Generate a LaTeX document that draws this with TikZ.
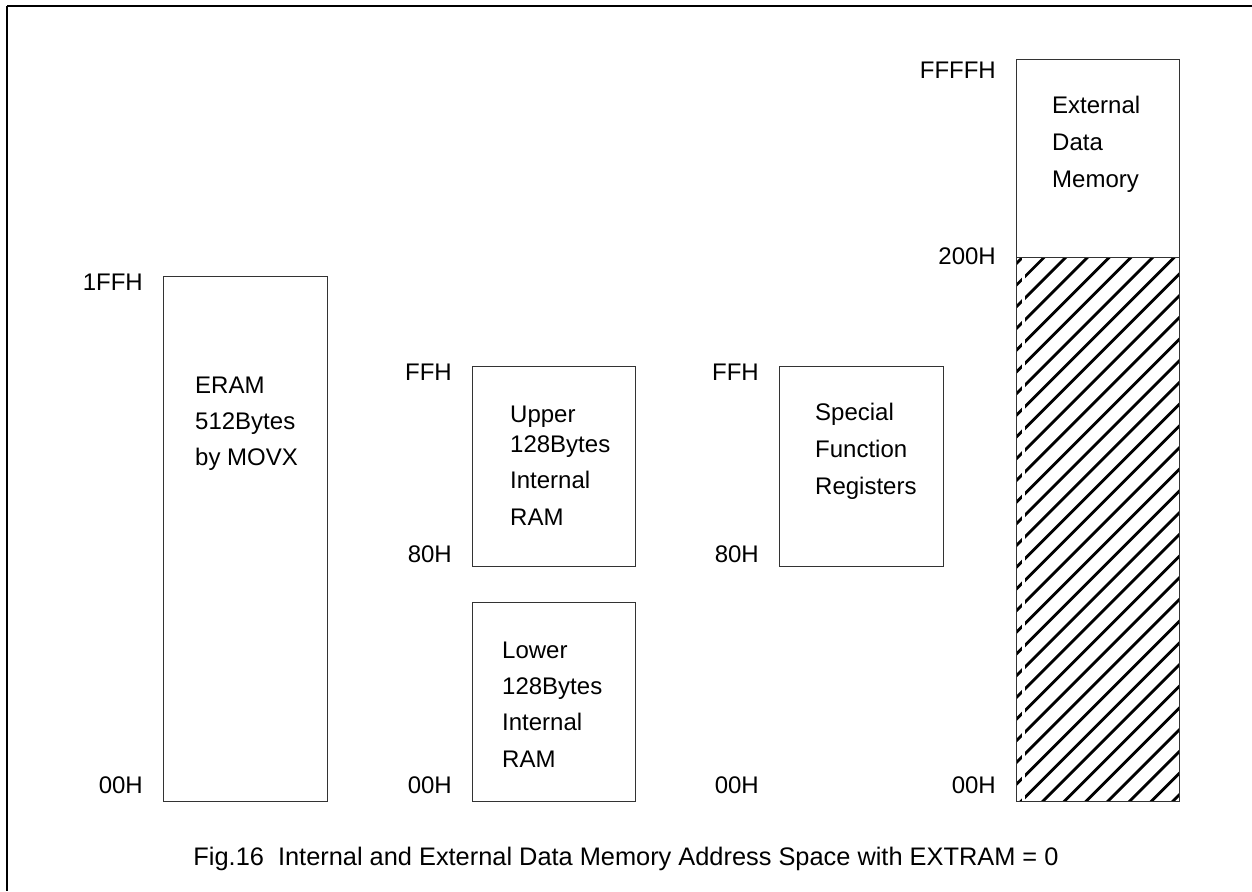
\documentclass[tikz,border=0pt]{standalone}
\usepackage{fontspec}
\usepackage{graphicx}
\setmainfont{Liberation Sans}
\begin{document}
\begin{tikzpicture}[x=1pt,y=-1pt,
  txt/.style={inner sep=0pt,font=\fontsize{24}{29}\selectfont},
  addr/.style={txt,anchor=base east},
  line/.style={txt,anchor=base west},
  memblk/.style={draw=black!80,line width=1.4pt,inner sep=0pt,anchor=north west},
  hatch/.style={line width=2.8pt,black},
  frameline/.style={line width=2.8pt,black}]
\useasboundingbox (0,0) rectangle (1252,891);

% page frame (top and left edges)
\draw[frameline] (7,6) -- (1252,6);
\draw[frameline] (7,6) -- (7,891);

% hatched part of the external data memory
\begin{scope}
  \clip (1016,257) rectangle (1179,801);
  \foreach \k in {-28,...,8}{
    \pgfmathsetmacro{\c}{1844+21.7*\k}
    \draw[hatch] (\c-801-10,811) -- (\c-257+10,247);
  }
  \fill[white] (1022,250) rectangle (1025,805);
\end{scope}

% memory blocks
\node[memblk,minimum width=164pt,minimum height=525pt] (eram) at (163,276) {};
\node[memblk,minimum width=163pt,minimum height=200pt] (upper) at (472,366) {};
\node[memblk,minimum width=163pt,minimum height=199pt] (lower) at (472,602) {};
\node[memblk,minimum width=164pt,minimum height=200pt] (sfr) at (779,366) {};
\node[memblk,minimum width=163pt,minimum height=198pt] (extup) at (1016,59) {};
\node[memblk,minimum width=163pt,minimum height=544pt] (extlow) at (1016,257) {};

% address labels
\node[addr] (a-eram-top) at (143,290) {1FFH};
\node[addr] (a-eram-bot) at (143,793) {00H};
\node[addr] (a-upper-top) at (452,380) {FFH};
\node[addr] (a-upper-bot) at (452,562) {80H};
\node[addr] (a-lower-bot) at (452,793) {00H};
\node[addr] (a-sfr-top) at (759,380) {FFH};
\node[addr] (a-sfr-bot) at (759,562) {80H};
\node[addr] (a-sfr-zero) at (759,793) {00H};
\node[addr] (a-ext-top) at (996,78) {FFFFH};
\node[addr] (a-ext-mid) at (996,264) {200H};
\node[addr] (a-ext-bot) at (996,793) {00H};

% block contents
\node[line] (eram-1) at (195,393) {ERAM};
\node[line] (eram-2) at (195,429) {512Bytes};
\node[line] (eram-3) at (195,465) {by MOVX};

\node[line] (upper-1) at (510,422) {Upper};
\node[line] (upper-2) at (510,452) {128Bytes};
\node[line] (upper-3) at (510,488) {Internal};
\node[line] (upper-4) at (510,525) {RAM};

\node[line] (lower-1) at (502,658) {Lower};
\node[line] (lower-2) at (502,694) {128Bytes};
\node[line] (lower-3) at (502,730) {Internal};
\node[line] (lower-4) at (502,767) {RAM};

\node[line] (sfr-1) at (815,420) {Special};
\node[line] (sfr-2) at (815,457) {Function};
\node[line] (sfr-3) at (815,494) {Registers};

\node[line] (ext-1) at (1052,113) {External};
\node[line] (ext-2) at (1052,150) {Data};
\node[line] (ext-3) at (1052,187) {Memory};

% caption
\node[txt,anchor=base] (caption) at (626,865)
  {\resizebox{865pt}{!}{Fig.16\ \ Internal and External Data Memory Address Space with EXTRAM = 0}};
\end{tikzpicture}
\end{document}
